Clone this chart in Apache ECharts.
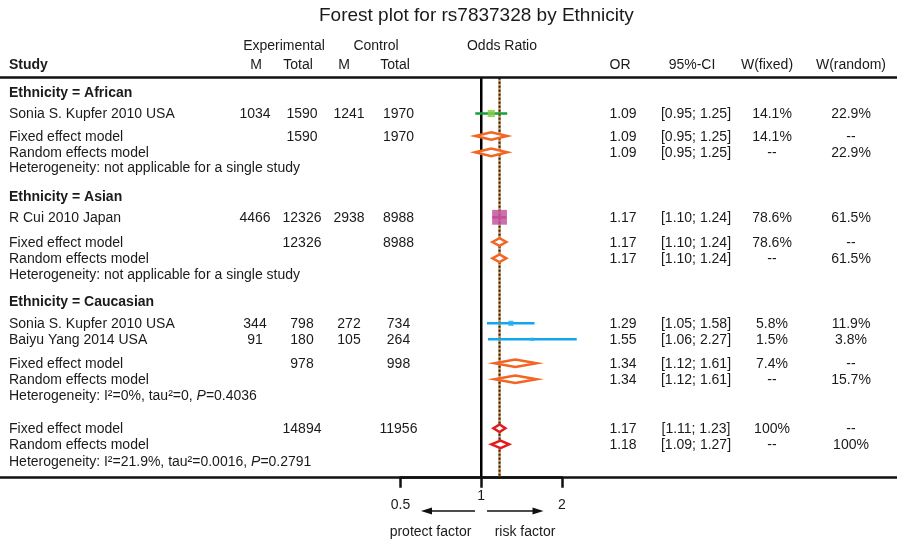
<!DOCTYPE html>
<html>
<head>
<meta charset="utf-8">
<title>Forest plot</title>
<script src="https://cdn.jsdelivr.net/npm/echarts@6/dist/echarts.min.js"></script>
<style>
  html, body { margin: 0; padding: 0; background: #fff; }
  #chart { width: 897px; height: 542px; }
</style>
</head>
<body>
<div id="chart"></div>
<script>
// ---- data ----
const groups = ['African', 'Asian', 'Caucasian'];
const studyNames = ['Sonia S. Kupfer 2010 USA', 'R Cui 2010 Japan', 'Sonia S. Kupfer 2010 USA', 'Baiyu Yang 2014 USA'];
const studyGroup = [0, 1, 2, 2];
const expEvents = [1034, 4466, 344, 91];
const expTotal = [1590, 12326, 798, 180];
const ctrlEvents = [1241, 2938, 272, 105];
const ctrlTotal = [1970, 8988, 734, 264];
const studyOR = [1.09, 1.17, 1.29, 1.55];
const studyLow = [0.95, 1.10, 1.05, 1.06];
const studyHigh = [1.25, 1.24, 1.58, 2.27];
const studyWFixed = [14.1, 78.6, 5.8, 1.5];
const studyWRandom = [22.9, 61.5, 11.9, 3.8];

// pooled rows: the 3 subgroups, then overall
const pooledExpTotal = [1590, 12326, 978, 14894];
const pooledCtrlTotal = [1970, 8988, 998, 11956];
const fixedOR = [1.09, 1.17, 1.34, 1.17];
const fixedLow = [0.95, 1.10, 1.12, 1.11];
const fixedHigh = [1.25, 1.24, 1.61, 1.23];
const fixedW = [14.1, 78.6, 7.4, 100];
const randomOR = [1.09, 1.17, 1.34, 1.18];
const randomLow = [0.95, 1.10, 1.12, 1.09];
const randomHigh = [1.25, 1.24, 1.61, 1.27];
const randomW = [22.9, 61.5, 15.7, 100];
const hetI2 = [null, null, '0', '21.9'];
const hetTau2 = [null, null, '0', '0.0016'];
const hetP = [null, null, '0.4036', '0.2791'];

const axisTicks = [0.5, 1, 2];

// ---- layout (row positions in px, column centres) ----
const headY = [45, 64];
const groupHeadY = [92.5, 196.5, 301.5];
const studyY = [113.5, 217.3, 323.3, 339.3];
const fixedY = [136, 242, 363.3, 428.3];
const randomY = [152.3, 258.3, 379.3, 444.3];
const hetY = [167.5, 274, 395, 461];
const ruleY = [77.7, 477.7];
const col = { study: 9, expM: 255, expT: 302, ctrlM: 349, ctrlT: 398.5, or: 623, ci: 696, wf: 772, wr: 851 };

const FONT = 'Liberation Sans, Arial, sans-serif';
const FS = 14;
const TXT = '#1a1a1a';
const lineColors = ['#1a9e3c', '#a8307e', '#12a8e8'];
const boxColors = ['#86cc4a', '#c4559f', '#22b0ec'];
const diamondColors = ['#f26522', '#e41a1c'];

const f2 = v => v.toFixed(2);
const ciTxt = (l, h) => '[' + f2(l) + '; ' + f2(h) + ']';
const pct = w => (w === 100 ? '100' : w.toFixed(1)) + '%';

// ---- build the table text ----
const cells = [];
function cell (x, y, text, align, bold) {
  cells.push({ x, y, text: String(text), align: align || 'center', bold: !!bold });
}
cell(284, headY[0], 'Experimental');
cell(376, headY[0], 'Control');
cell(502, headY[0], 'Odds Ratio');
cell(col.study, headY[1], 'Study', 'left', true);
cell(256, headY[1], 'M');
cell(298, headY[1], 'Total');
cell(344, headY[1], 'M');
cell(395, headY[1], 'Total');
cell(620, headY[1], 'OR');
cell(692, headY[1], '95%-CI');
cell(767, headY[1], 'W(fixed)');
cell(851, headY[1], 'W(random)');

groups.forEach((g, i) => cell(col.study, groupHeadY[i], 'Ethnicity = ' + g, 'left', true));

studyNames.forEach((name, i) => {
  const y = studyY[i];
  cell(col.study, y, name, 'left');
  cell(col.expM, y, expEvents[i]);
  cell(col.expT, y, expTotal[i]);
  cell(col.ctrlM, y, ctrlEvents[i]);
  cell(col.ctrlT, y, ctrlTotal[i]);
  cell(col.or, y, f2(studyOR[i]));
  cell(col.ci, y, ciTxt(studyLow[i], studyHigh[i]));
  cell(col.wf, y, pct(studyWFixed[i]));
  cell(col.wr, y, pct(studyWRandom[i]));
});

fixedOR.forEach((v, i) => {
  let y = fixedY[i];
  cell(col.study, y, 'Fixed effect model', 'left');
  cell(col.expT, y, pooledExpTotal[i]);
  cell(col.ctrlT, y, pooledCtrlTotal[i]);
  cell(col.or, y, f2(v));
  cell(col.ci, y, ciTxt(fixedLow[i], fixedHigh[i]));
  cell(col.wf, y, pct(fixedW[i]));
  cell(col.wr, y, '--');
  y = randomY[i];
  cell(col.study, y, 'Random effects model', 'left');
  cell(col.or, y, f2(randomOR[i]));
  cell(col.ci, y, ciTxt(randomLow[i], randomHigh[i]));
  cell(col.wf, y, '--');
  cell(col.wr, y, pct(randomW[i]));
  if (hetI2[i] === null) {
    cell(col.study, hetY[i], 'Heterogeneity: not applicable for a single study', 'left');
  } else {
    cell(col.study, hetY[i],
      '{n|Heterogeneity: I²=' + hetI2[i] + '%, tau²=' + hetTau2[i] + ', }{i|P}{n|=' + hetP[i] + '}', 'left');
  }
});

// ---- forest marks ----
const studyData = studyOR.map((v, i) => [v, studyLow[i], studyHigh[i], studyY[i], studyWFixed[i], studyGroup[i]]);
const diamondData = [];
fixedOR.forEach((v, i) => {
  const kind = i < groups.length ? 0 : 1;
  diamondData.push([v, fixedLow[i], fixedHigh[i], fixedY[i], kind]);
  diamondData.push([randomOR[i], randomLow[i], randomHigh[i], randomY[i], kind]);
});
// reference lines: no effect (OR = 1) and the overall fixed-effect estimate
const refData = [[1, 0], [fixedOR[3], 1]];

const chart = echarts.init(document.getElementById('chart'), null, { renderer: 'canvas' });

const option = {
  animation: false,
  backgroundColor: '#fff',
  title: {
    text: 'Forest plot for rs7837328 by Ethnicity',
    left: 314,
    top: 1,
    textStyle: { fontFamily: FONT, fontSize: 19, fontWeight: 'normal', color: TXT }
  },
  grid: [
    { left: 0, right: 0, top: 0, bottom: 0 },
    { left: 400.5, right: 335, top: ruleY[0], bottom: 542 - ruleY[1] }
  ],
  xAxis: [
    { gridIndex: 0, type: 'value', min: 0, max: 897, show: false },
    {
      gridIndex: 1,
      type: 'log',
      logBase: 2,
      min: axisTicks[0],
      max: axisTicks[axisTicks.length - 1],
      axisLine: { show: true, lineStyle: { color: '#111', width: 2.5 } },
      axisTick: { show: true, length: 10, lineStyle: { color: '#111', width: 2.5 } },
      splitLine: { show: false },
      minorTick: { show: false },
      axisLabel: {
        show: true,
        margin: 10,
        formatter: function (v) {
          const s = String(+(+v).toFixed(2));
          return s === '1' ? '{a|1}' : '{b|' + s + '}';
        },
        rich: {
          a: { fontFamily: FONT, fontSize: FS, color: TXT, lineHeight: 16 },
          b: { fontFamily: FONT, fontSize: FS, color: TXT, lineHeight: 34 }
        }
      }
    }
  ],
  yAxis: [
    { gridIndex: 0, type: 'value', min: 0, max: 542, inverse: true, show: false },
    { gridIndex: 1, type: 'value', min: ruleY[0], max: ruleY[1], inverse: true, show: false }
  ],
  graphic: [
    { type: 'line', shape: { x1: 475, y1: 511, x2: 428, y2: 511 }, style: { stroke: '#111', lineWidth: 1.3 } },
    { type: 'polygon', shape: { points: [[421, 511], [432, 507.5], [432, 514.5]] }, style: { fill: '#111' } },
    { type: 'line', shape: { x1: 487, y1: 511, x2: 536, y2: 511 }, style: { stroke: '#111', lineWidth: 1.3 } },
    { type: 'polygon', shape: { points: [[543.5, 511], [532.5, 507.5], [532.5, 514.5]] }, style: { fill: '#111' } },
    { type: 'text', x: 430.5, y: 532, style: { text: 'protect factor', align: 'center', verticalAlign: 'middle', font: FS + 'px ' + FONT, fill: TXT } },
    { type: 'text', x: 525, y: 532, style: { text: 'risk factor', align: 'center', verticalAlign: 'middle', font: FS + 'px ' + FONT, fill: TXT } }
  ],
  series: [
    {
      // table text
      type: 'custom',
      xAxisIndex: 0,
      yAxisIndex: 0,
      silent: true,
      data: cells.map(c => [c.x, c.y]),
      renderItem: function (params, api) {
        const c = cells[params.dataIndex];
        const p = api.coord([api.value(0), api.value(1)]);
        return {
          type: 'text',
          x: p[0],
          y: p[1] + 1,
          style: {
            text: c.text,
            align: c.align,
            verticalAlign: 'middle',
            fontFamily: FONT,
            fontSize: FS,
            fontWeight: c.bold ? 'bold' : 'normal',
            fill: TXT,
            rich: {
              n: { fontFamily: FONT, fontSize: FS, color: TXT },
              i: { fontFamily: FONT, fontSize: FS, color: TXT, fontStyle: 'italic' }
            }
          }
        };
      },
      markLine: {
        silent: true,
        symbol: 'none',
        label: { show: false },
        lineStyle: { color: '#111', width: 2.5, type: 'solid' },
        data: ruleY.map(y => ({ yAxis: y }))
      }
    },
    {
      // vertical reference lines
      type: 'custom',
      xAxisIndex: 1,
      yAxisIndex: 1,
      silent: true,
      z: 1,
      data: refData,
      renderItem: function (params, api) {
        const x = api.coord([api.value(0), ruleY[0]])[0];
        const top = params.coordSys.y;
        const bot = params.coordSys.y + params.coordSys.height;
        if (api.value(1) === 0) {
          return { type: 'line', shape: { x1: x, y1: top, x2: x, y2: bot }, style: { stroke: '#000', lineWidth: 2.5 } };
        }
        return {
          type: 'group',
          children: [
            { type: 'line', shape: { x1: x, y1: top, x2: x, y2: bot }, style: { stroke: '#c79a63', lineWidth: 2.5 } },
            { type: 'line', shape: { x1: x, y1: top, x2: x, y2: bot }, style: { stroke: '#3b2412', lineWidth: 2, lineDash: [2, 2] } }
          ]
        };
      }
    },
    {
      // study CI + weight squares
      type: 'custom',
      xAxisIndex: 1,
      yAxisIndex: 1,
      silent: true,
      clip: false,
      z: 3,
      data: studyData,
      renderItem: function (params, api) {
        const y = api.value(3);
        const c = api.coord([api.value(0), y]);
        const lo = api.coord([api.value(1), y]);
        const hi = api.coord([api.value(2), y]);
        const s = 1.5 * Math.sqrt(api.value(4)) + 1.5;
        const g = api.value(5);
        return {
          type: 'group',
          children: [
            { type: 'line', shape: { x1: lo[0], y1: c[1], x2: hi[0], y2: c[1] }, style: { stroke: lineColors[g], lineWidth: 2.5 } },
            { type: 'rect', shape: { x: c[0] - s / 2, y: c[1] - s / 2, width: s, height: s }, style: { fill: boxColors[g], opacity: 0.85 } }
          ]
        };
      }
    },
    {
      // pooled estimates (diamonds)
      type: 'custom',
      xAxisIndex: 1,
      yAxisIndex: 1,
      silent: true,
      clip: false,
      z: 4,
      data: diamondData,
      renderItem: function (params, api) {
        const y = api.value(3);
        const c = api.coord([api.value(0), y]);
        const lo = api.coord([api.value(1), y]);
        const hi = api.coord([api.value(2), y]);
        const h = 3.8;
        return {
          type: 'polygon',
          shape: { points: [[lo[0], c[1]], [c[0], c[1] - h], [hi[0], c[1]], [c[0], c[1] + h]] },
          style: { fill: '#fff', stroke: diamondColors[api.value(4)], lineWidth: 2.5, lineJoin: 'miter' }
        };
      }
    }
  ]
};

chart.setOption(option);
</script>
</body>
</html>
